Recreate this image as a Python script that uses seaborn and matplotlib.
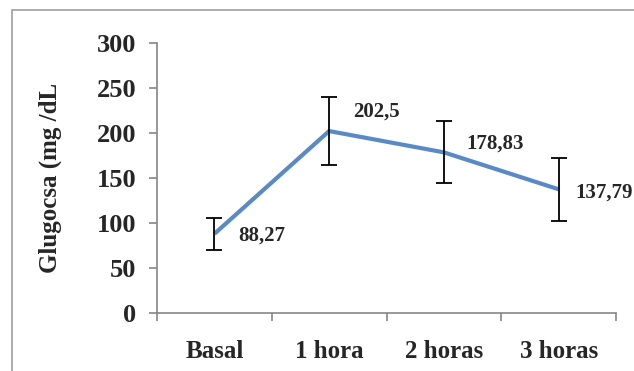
import matplotlib
matplotlib.use("Agg")
import matplotlib.pyplot as plt
import seaborn as sns
import pandas as pd
from matplotlib.patches import Rectangle

# data
categories = ["Basal", "1 hora", "2 horas", "3 horas"]
glucose = [88.27, 202.5, 178.83, 137.79]
glucose_err = [17.5, 38, 34.3, 34.8]
value_labels = ["88,27", "202,5", "178,83", "137,79"]

sns.set_theme(style="white")
plt.rcParams["font.family"] = ["Liberation Serif", "DejaVu Serif"]
plt.rcParams["font.weight"] = "bold"

df = pd.DataFrame({"pos": range(len(categories)), "glucosa": glucose})

fig = plt.figure(figsize=(6.34, 3.71), dpi=100)
ax = fig.add_axes([157 / 634, 1 - 313.3 / 371, (616 - 157) / 634, (313.3 - 43.3) / 371])

# chart area border (cut off at the right and bottom in the reference)
fig.patches.append(Rectangle((12 / 634, -0.1), 1.2, 1 - 10 / 371 + 0.1,
                             transform=fig.transFigure, fill=False,
                             edgecolor="#a0a0a0", lw=1.2))

sns.lineplot(data=df, x="pos", y="glucosa", ax=ax, color="#5A8AC6", lw=3,
             solid_capstyle="butt", zorder=3)
ax.errorbar(df["pos"], glucose, yerr=glucose_err, fmt="none", ecolor="black",
            elinewidth=1.3, capsize=5.5, capthick=1.3, zorder=4)

# data labels, placed to the right of the points
label_offsets = [(24, -2), (24, 19), (23, 9), (17, -3)]
for i, (txt, off) in enumerate(zip(value_labels, label_offsets)):
    ax.annotate(txt, (i, glucose[i]), xytext=off, textcoords="offset pixels",
                ha="left", va="center", fontsize=15, fontweight="bold",
                annotation_clip=False)

ax.set_xlim(-0.5, 3.5)
ax.set_ylim(0, 300)
ax.set_yticks(range(0, 301, 50))
ax.set_xticks(range(len(categories)))
ax.set_xticklabels(categories)
ax.set_xticks([-0.5, 0.5, 1.5, 2.5, 3.5], minor=True)

for s in ["top", "right"]:
    ax.spines[s].set_visible(False)
for s in ["left", "bottom"]:
    ax.spines[s].set_color("#868686")
    ax.spines[s].set_linewidth(1.2)

ax.tick_params(axis="y", which="major", left=True, length=6, width=1.2,
               color="#868686", labelsize=19, pad=9)
ax.tick_params(axis="x", which="major", bottom=False, labelsize=18, pad=13)
ax.tick_params(axis="x", which="minor", bottom=True, length=6, width=1.2,
               color="#868686")
for lab in ax.get_xticklabels() + ax.get_yticklabels():
    lab.set_fontweight("bold")

ax.set_xlabel("")
ax.set_ylabel("Glugocsa (mg /dL", fontsize=18, fontweight="bold")
ax.yaxis.set_label_coords(-0.207, 0.5)

fig.savefig("out.png", dpi=100)
